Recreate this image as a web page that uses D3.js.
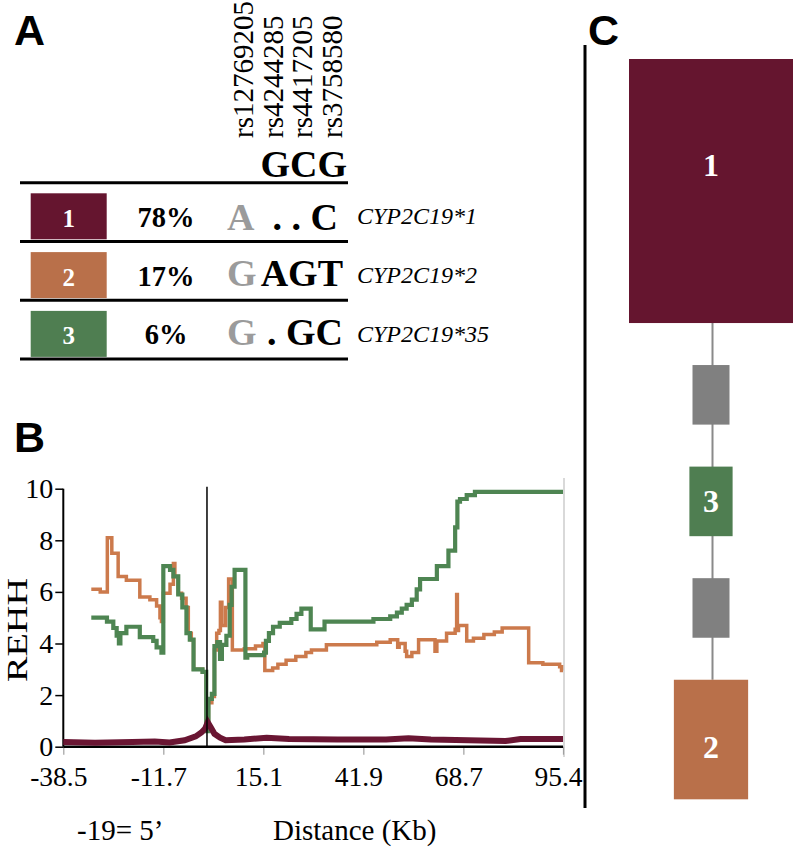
<!DOCTYPE html>
<html>
<head>
<meta charset="utf-8">
<script src="https://cdn.jsdelivr.net/npm/d3@7"></script>
<style>
  html, body { margin: 0; padding: 0; background: #fff; }
  svg { display: block; }
</style>
</head>
<body>
<svg id="fig" width="797" height="849"></svg>
<script>
// ---- data ----
const rsIds = ["rs12769205", "rs4244285", "rs4417205", "rs3758580"];
const refAlleles = "GCG";
const hapIds = ["1", "2", "3"];
const hapFreq = [78, 17, 6];
const hapFirstAllele = ["A", "G", "G"];
const hapRestAlleles = [". . C", "AGT", ". GC"];
const hapNames = ["CYP2C19*1", "CYP2C19*2", "CYP2C19*35"];
const hapColors = ["#65152f", "#b9704a", "#4f7e51"];

const xTicks = [-38.5, -11.7, 15.1, 41.9, 68.7, 95.4];
const yTicks = [0, 2, 4, 6, 8, 10];

// REHH per haplotype, [distance kb, REHH]
const rehhHap1 = [[-38.5, 0.18], [-30, 0.15], [-20, 0.18], [-14, 0.2], [-10, 0.16], [-6, 0.25], [-3, 0.4],
  [-1.5, 0.55], [-0.5, 0.7], [0.2, 0.95], [1.0, 0.75], [2.0, 0.5], [3.5, 0.35], [5.0, 0.25], [10, 0.28],
  [16, 0.35], [22, 0.3], [35, 0.28], [48, 0.28], [54, 0.33], [60, 0.28], [70, 0.25], [80, 0.22],
  [84, 0.3], [95.4, 0.3]];
const rehhHap2 = [[-31.0, 6.1], [-28.6, 6.0], [-26.7, 8.1], [-25.5, 7.5], [-23.8, 6.6], [-21.6, 6.45],
  [-18.0, 5.8], [-15.3, 5.7], [-13.5, 5.45], [-12.6, 5.0], [-12.2, 4.85], [-11.7, 5.95], [-9.9, 6.3],
  [-9.0, 7.1], [-8.6, 6.6], [-7.7, 5.95], [-6.8, 5.75], [-5.6, 5.4], [-5.0, 4.4], [-4.2, 4.15],
  [-3.6, 3.0], [-1.2, 2.9], [-0.2, 0.9], [0.4, 1.7], [1.3, 1.95], [2.0, 3.75], [2.6, 4.4], [3.2, 4.5],
  [3.6, 5.6], [4.0, 4.7], [5.0, 5.4], [5.8, 6.5], [6.8, 3.75], [10.0, 3.8], [13.0, 3.9], [15.0, 4.0],
  [15.5, 2.95], [17.6, 3.05], [19.0, 3.2], [21.2, 3.35], [23.8, 3.5], [26.5, 3.65], [28.0, 3.75],
  [32.0, 3.95], [45.5, 4.05], [49.1, 4.15], [51.1, 3.85], [51.5, 4.0], [53.1, 3.7], [53.5, 3.5],
  [54.9, 3.65], [56.7, 4.15], [61.1, 3.7], [61.6, 4.1], [64.2, 4.4], [66.5, 4.55], [66.9, 5.9],
  [67.1, 4.5], [67.4, 4.7], [69.6, 4.1], [71.4, 4.2], [74.2, 4.35], [77.0, 4.45], [79.1, 4.6],
  [86.2, 3.25], [90.0, 3.2], [94.5, 3.1], [95.0, 2.95], [95.4, 2.95]];
const rehhHap3 = [[-31.0, 5.0], [-26.8, 4.85], [-25.1, 4.6], [-24.2, 4.3], [-23.6, 4.0], [-23.2, 4.4],
  [-21.6, 4.65], [-18.0, 4.25], [-14.4, 4.1], [-13.5, 3.85], [-12.2, 3.65], [-11.7, 7.0], [-9.9, 6.85],
  [-9.0, 6.6], [-7.7, 5.9], [-6.6, 5.4], [-5.5, 4.4], [-4.6, 4.15], [-3.6, 3.0], [-1.2, 2.9],
  [-0.2, 0.6], [0.4, 1.85], [1.3, 2.05], [2.0, 3.9], [2.8, 4.05], [3.5, 3.4], [4.0, 3.95], [5.2, 4.3],
  [6.1, 5.5], [6.6, 6.2], [7.4, 6.85], [10.3, 3.45], [10.8, 3.55], [15.3, 3.65], [15.8, 4.1],
  [16.6, 4.4], [17.7, 4.65], [19.5, 4.8], [22.6, 4.95], [24.0, 5.15], [25.3, 5.35], [27.8, 4.55],
  [31.5, 4.85], [44.6, 4.95], [49.1, 5.05], [50.9, 5.2], [52.2, 5.35], [53.5, 5.5], [54.9, 5.7],
  [56.2, 6.1], [57.1, 6.5], [61.6, 7.0], [64.7, 7.6], [66.5, 8.5], [67.1, 9.5], [67.8, 9.6],
  [69.6, 9.75], [71.8, 9.88], [95.4, 9.88]];

// haplotype network, top to bottom ("" = inferred node)
const netLabels = ["1", "", "3", "", "2"];
const netFreq = [78, null, 6, null, 17];
const netColors = ["#65152f", "#808080", "#4f7e51", "#808080", "#b9704a"];

const SERIF = '"Liberation Serif", "Times New Roman", serif';
const SANS = '"Liberation Sans", Arial, sans-serif';

const svg = d3.select("#fig");

const panelLetter = (px, py, s) => svg.append("text")
  .attr("x", px).attr("y", py)
  .style("font-family", SANS).style("font-weight", "bold").style("font-size", "43px")
  .text(s);

// ---- panel A ----
panelLetter(14, 45, "A");

const colBase = d3.scaleLinear().domain([0, 3]).range([253, 342]);
svg.append("g").selectAll("text")
  .data(rsIds)
  .enter()
  .append("text")
  .attr("transform", (d, i) => `translate(${colBase(i)},138) rotate(-90)`)
  .style("font-family", SERIF).style("font-size", "29px")
  .text(d => d);

svg.append("text")
  .attr("x", 347).attr("y", 177)
  .attr("text-anchor", "end")
  .style("font-family", SERIF).style("font-size", "38px").style("font-weight", "bold")
  .text(refAlleles);

const rowY = d3.scaleLinear().domain([0, 3]).range([182.7, 359.1]);

svg.append("g").selectAll("line")
  .data(d3.range(4))
  .enter()
  .append("line")
  .attr("x1", 20).attr("x2", 348)
  .attr("y1", d => rowY(d)).attr("y2", d => rowY(d))
  .style("stroke", "#000").style("stroke-width", 3);

const rows = svg.append("g").selectAll("g")
  .data(hapIds)
  .enter()
  .append("g")
  .attr("transform", (d, i) => `translate(0,${rowY(i)})`);

rows.append("rect")
  .attr("x", 30.7).attr("y", 10.6)
  .attr("width", 76).attr("height", 46)
  .style("fill", (d, i) => hapColors[i]);

rows.append("text")
  .attr("x", 68.7).attr("y", 44)
  .attr("text-anchor", "middle")
  .style("font-family", SERIF).style("font-size", "25px").style("font-weight", "bold").style("fill", "#fff")
  .text(d => d);

rows.append("text")
  .attr("x", 166).attr("y", 44)
  .attr("text-anchor", "middle")
  .style("font-family", SERIF).style("font-size", "28.5px").style("font-weight", "bold")
  .text((d, i) => hapFreq[i] + "%");

rows.append("text")
  .attr("x", 227).attr("y", (d, i) => i === 0 ? 47 : 44.5)
  .style("font-family", SERIF).style("font-size", "38px").style("font-weight", "bold").style("fill", "#9b9b9b")
  .text((d, i) => hapFirstAllele[i]);

rows.append("text")
  .attr("x", (d, i) => i === 0 ? 338 : 343).attr("y", (d, i) => i === 0 ? 47 : 44.5)
  .attr("text-anchor", "end")
  .style("font-family", SERIF).style("font-size", "38px").style("font-weight", "bold")
  .text((d, i) => hapRestAlleles[i]);

rows.append("text")
  .attr("x", 357).attr("y", 41.5)
  .style("font-family", SERIF).style("font-size", "24px").style("font-style", "italic")
  .text((d, i) => hapNames[i]);

// ---- panel B ----
panelLetter(14, 452, "B");

const x = d3.scaleLinear().domain([-38.5, 95.4]).range([63.3, 563]);
const y = d3.scaleLinear().domain([0, 10]).range([746.7, 488.7]);

// light right frame
svg.append("line")
  .attr("x1", 564).attr("x2", 564).attr("y1", 478).attr("y2", 757)
  .style("stroke", "#d9d9d9").style("stroke-width", 2);

const xAxis = svg.append("g")
  .attr("transform", `translate(0,${y(0)})`)
  .call(d3.axisBottom(x).tickValues(xTicks).tickFormat(d => String(d)).tickSize(8).tickPadding(12));
xAxis.select(".domain").remove();
xAxis.selectAll(".tick line").style("stroke", "#a0a0a0").style("stroke-width", 1.2);
xAxis.selectAll(".tick text")
  .attr("dx", -5)
  .style("font-size", "27.5px").style("font-family", SERIF);

const yAxis = svg.append("g")
  .attr("transform", `translate(${x(-38.5)},0)`)
  .call(d3.axisLeft(y).tickValues(yTicks).tickSize(8).tickPadding(2));
yAxis.select(".domain").remove();
yAxis.selectAll(".tick line").style("stroke", "#000").style("stroke-width", 1.5);
yAxis.selectAll(".tick text").style("font-size", "28px").style("font-family", SERIF);

svg.append("line")
  .attr("x1", x(-38.5)).attr("x2", x(-38.5)).attr("y1", y(10)).attr("y2", y(0))
  .style("stroke", "#000").style("stroke-width", 2);
svg.append("line")
  .attr("x1", x(-38.5)).attr("x2", x(95.4)).attr("y1", y(0)).attr("y2", y(0))
  .style("stroke", "#000").style("stroke-width", 2.5);

const stepLine = d3.line()
  .x(d => x(d[0]))
  .y(d => y(d[1]))
  .curve(d3.curveStepAfter);
const smoothLine = d3.line()
  .x(d => x(d[0]))
  .y(d => y(d[1]));

svg.append("path")
  .datum(rehhHap2)
  .attr("d", stepLine)
  .style("fill", "none").style("stroke", "#cc7a4c").style("stroke-width", 3.5);

svg.append("path")
  .datum(rehhHap3)
  .attr("d", stepLine)
  .style("fill", "none").style("stroke", "#4e8552").style("stroke-width", 4.2);

svg.append("path")
  .datum(rehhHap1)
  .attr("d", smoothLine)
  .style("fill", "none").style("stroke", "#6a1633").style("stroke-width", 6);

svg.append("line")
  .attr("x1", x(0)).attr("x2", x(0)).attr("y1", 486.7).attr("y2", y(0))
  .style("stroke", "#000").style("stroke-width", 1.5);

svg.append("text")
  .attr("transform", "translate(27,630) rotate(-90)")
  .attr("text-anchor", "middle")
  .attr("textLength", 104).attr("lengthAdjust", "spacingAndGlyphs")
  .style("font-family", SERIF).style("font-size", "29px")
  .text("REHH");

svg.append("text")
  .attr("x", 77).attr("y", 840)
  .style("font-family", SERIF).style("font-size", "29px")
  .text("-19= 5\u2019");

svg.append("text")
  .attr("x", 273).attr("y", 840)
  .style("font-family", SERIF).style("font-size", "29px")
  .text("Distance (Kb)");

// ---- panel C ----
svg.append("line")
  .attr("x1", 585).attr("x2", 585).attr("y1", 45).attr("y2", 808)
  .style("stroke", "#000").style("stroke-width", 3);
panelLetter(588, 45, "C");

const boxW = d3.scalePow().exponent(0.52).domain([0, 78]).range([0, 164]);
const inferredW = 37, aspect = 1.61, gap = 42, netTop = 59, netCx = 711;
const labelFrac = [0.4, 0.5, 0.5, 0.5, 0.56];

let cursorY = netTop;
const nodes = netLabels.map((lab, i) => {
  const w = netFreq[i] == null ? inferredW : boxW(netFreq[i]);
  const h = w * aspect;
  const n = { label: lab, color: netColors[i], w: w, h: h, y: cursorY, frac: labelFrac[i] };
  cursorY += h + gap;
  return n;
});

svg.append("line")
  .attr("x1", netCx + 1.5).attr("x2", netCx + 1.5)
  .attr("y1", nodes[0].y + nodes[0].h).attr("y2", nodes[nodes.length - 1].y)
  .style("stroke", "#8a8a8a").style("stroke-width", 2);

const netNodes = svg.append("g").selectAll("g")
  .data(nodes)
  .enter()
  .append("g");

netNodes.append("rect")
  .attr("x", d => netCx - d.w / 2)
  .attr("y", d => d.y)
  .attr("width", d => d.w)
  .attr("height", d => d.h)
  .style("fill", d => d.color);

netNodes.append("text")
  .attr("x", netCx)
  .attr("y", d => d.y + d.h * d.frac + 11)
  .attr("text-anchor", "middle")
  .style("font-family", SERIF).style("font-size", "32px").style("font-weight", "bold").style("fill", "#fff")
  .text(d => d.label);
</script>
</body>
</html>
